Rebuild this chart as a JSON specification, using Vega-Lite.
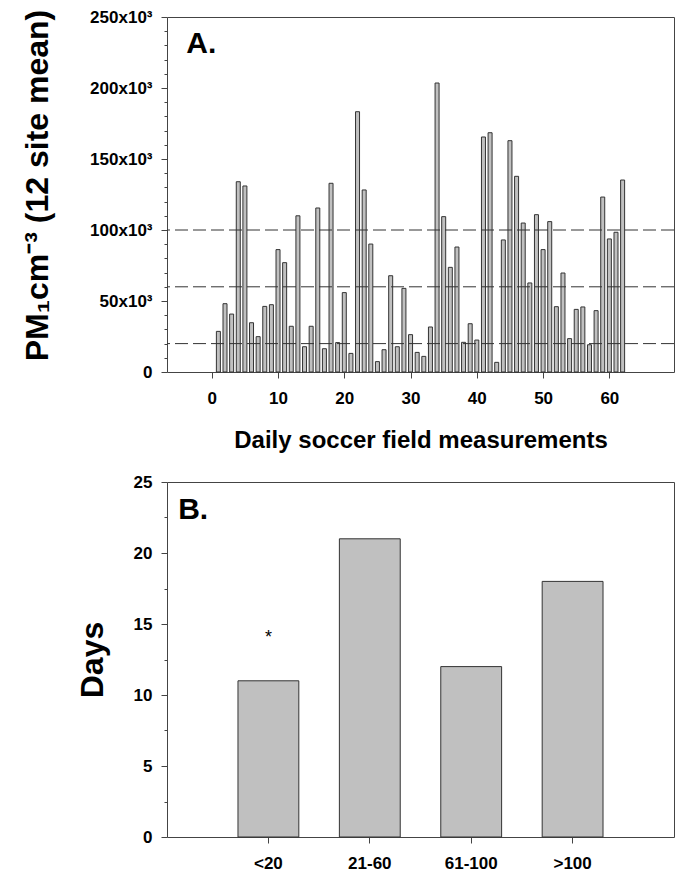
{
  "$schema": "https://vega.github.io/schema/vega-lite/v6.json",
  "background": "white",
  "padding": {"left": 20, "top": 7, "right": 5, "bottom": 2},
  "config": {
    "font": "Liberation Sans",
    "view": {"stroke": "#444", "strokeWidth": 1},
    "axis": {
      "domain": false,
      "grid": false,
      "labelFont": "Liberation Sans",
      "labelFontWeight": "bold",
      "labelFontSize": 17,
      "labelColor": "black",
      "labelFlush": false,
      "labelOverlap": false,
      "tickColor": "#444",
      "titleFont": "Liberation Sans",
      "titleFontWeight": "bold",
      "titleColor": "black"
    }
  },
  "datasets": {
    "pm": [
      {"day": 1, "pm": 28600}, {"day": 2, "pm": 48100}, {"day": 3, "pm": 40800}, {"day": 4, "pm": 134000},
      {"day": 5, "pm": 131000}, {"day": 6, "pm": 34700}, {"day": 7, "pm": 24900}, {"day": 8, "pm": 46200},
      {"day": 9, "pm": 47400}, {"day": 10, "pm": 86200}, {"day": 11, "pm": 77000}, {"day": 12, "pm": 32200},
      {"day": 13, "pm": 110000}, {"day": 14, "pm": 17800}, {"day": 15, "pm": 32200}, {"day": 16, "pm": 115500},
      {"day": 17, "pm": 16400}, {"day": 18, "pm": 132900}, {"day": 19, "pm": 20700}, {"day": 20, "pm": 55900},
      {"day": 21, "pm": 13100}, {"day": 22, "pm": 183300}, {"day": 23, "pm": 128200}, {"day": 24, "pm": 90100},
      {"day": 25, "pm": 7300}, {"day": 26, "pm": 15700}, {"day": 27, "pm": 67800}, {"day": 28, "pm": 17800},
      {"day": 29, "pm": 58900}, {"day": 30, "pm": 26300}, {"day": 31, "pm": 13800}, {"day": 32, "pm": 11000},
      {"day": 33, "pm": 31700}, {"day": 34, "pm": 203500}, {"day": 35, "pm": 109400}, {"day": 36, "pm": 73700},
      {"day": 37, "pm": 88000}, {"day": 38, "pm": 20900}, {"day": 39, "pm": 34000}, {"day": 40, "pm": 22500},
      {"day": 41, "pm": 165500}, {"day": 42, "pm": 168500}, {"day": 43, "pm": 6800}, {"day": 44, "pm": 93000},
      {"day": 45, "pm": 162900}, {"day": 46, "pm": 137800}, {"day": 47, "pm": 104900}, {"day": 48, "pm": 62700},
      {"day": 49, "pm": 110800}, {"day": 50, "pm": 86200}, {"day": 51, "pm": 105900}, {"day": 52, "pm": 46000},
      {"day": 53, "pm": 69700}, {"day": 54, "pm": 23500}, {"day": 55, "pm": 44100}, {"day": 56, "pm": 45800},
      {"day": 57, "pm": 19200}, {"day": 58, "pm": 43200}, {"day": 59, "pm": 123200}, {"day": 60, "pm": 93700},
      {"day": 61, "pm": 98400}, {"day": 62, "pm": 135200}
    ],
    "thresholds": [{"level": 20000}, {"level": 60000}, {"level": 100000}],
    "days": [
      {"range": "<20", "days": 11, "note": "*"},
      {"range": "21-60", "days": 21, "note": ""},
      {"range": "61-100", "days": 12, "note": ""},
      {"range": ">100", "days": 18, "note": ""}
    ],
    "panelA": [{"label": "A."}],
    "panelB": [{"label": "B."}]
  },
  "bounds": "flush",
  "spacing": 110,
  "vconcat": [
    {
      "width": 507,
      "height": 355,
      "layer": [
        {
          "data": {"name": "pm"},
          "mark": {"type": "bar", "orient": "vertical", "size": 4, "fill": "#c0c0c0", "stroke": "#333", "strokeWidth": 1},
          "encoding": {
            "x": {
              "field": "day", "type": "quantitative",
              "scale": {"domain": [-6, 69], "nice": false, "zero": false},
              "axis": {
                "values": [0, 10, 20, 30, 40, 50, 60],
                "tickCount": 20,
                "title": "Daily soccer field measurements",
                "titleFontSize": 24,
                "titlePadding": 22,
                "labelPadding": 12,
                "labelFontSize": 17,
                "labelOverlap": false,
                "tickSize": 6
              }
            },
            "y": {
              "field": "pm", "type": "quantitative",
              "scale": {"domain": [0, 250000], "nice": false},
              "axis": {
                "values": [0, 10000, 20000, 30000, 40000, 50000, 60000, 70000, 80000, 90000, 100000, 110000, 120000, 130000, 140000, 150000, 160000, 170000, 180000, 190000, 200000, 210000, 220000, 230000, 240000, 250000],
                "tickCount": 40,
                "labelExpr": "datum.value % 50000 === 0 ? (datum.value === 0 ? '0' : (datum.value / 1000) + 'x10³') : ''",
                "labelOverlap": false,
                "labelFontSize": {"condition": {"test": "datum.value % 50000 === 0", "value": 17}, "value": 0},
                "tickSize": {"condition": {"test": "datum.value % 50000 === 0", "value": 6}, "value": 3},
                "labelPadding": 9,
                "title": "PM₁cm⁻³ (12 site mean)",
                "titleFontSize": 32,
                "titleX": -113,
                "titleY": 168
              }
            }
          }
        },
        {
          "data": {"name": "thresholds"},
          "mark": {"type": "rule", "strokeDash": [13, 5], "color": "#333", "strokeWidth": 1},
          "encoding": {"y": {"field": "level", "type": "quantitative"}}
        },
        {
          "data": {"name": "panelA"},
          "mark": {"type": "text", "align": "left", "baseline": "alphabetic", "fontSize": 30, "fontWeight": "bold", "font": "Liberation Sans", "color": "black"},
          "encoding": {
            "x": {"datum": -3.85, "type": "quantitative"},
            "y": {"datum": 224600, "type": "quantitative"},
            "text": {"field": "label"}
          }
        }
      ]
    },
    {
      "width": 507,
      "height": 355,
      "resolve": {"scale": {"x": "independent"}, "axis": {"x": "independent"}},
      "layer": [
        {
          "data": {"name": "days"},
          "encoding": {
            "x": {
              "field": "range", "type": "nominal", "sort": null,
              "scale": {"paddingInner": 0.4, "paddingOuter": 0.7},
              "axis": {"title": null, "labelAngle": 0, "labelPadding": 12, "labelFontSize": 17, "tickSize": 6}
            },
            "y": {
              "field": "days", "type": "quantitative",
              "scale": {"domain": [0, 25], "nice": false},
              "axis": {
                "values": [0, 2.5, 5, 7.5, 10, 12.5, 15, 17.5, 20, 22.5, 25],
                "tickCount": 20,
                "labelExpr": "datum.value % 5 === 0 ? datum.label : ''",
                "labelOverlap": false,
                "labelFontSize": 17,
                "tickSize": {"condition": {"test": "datum.value % 5 === 0", "value": 6}, "value": 3},
                "labelPadding": 9,
                "title": "Days",
                "titleFontSize": 32,
                "titleX": -58
              }
            }
          },
          "layer": [
            {"mark": {"type": "bar", "fill": "#c0c0c0", "stroke": "#333", "strokeWidth": 1}},
            {"mark": {"type": "text", "baseline": "alphabetic", "dy": -38, "fontSize": 18, "color": "black"}, "encoding": {"text": {"field": "note"}}}
          ]
        },
        {
          "data": {"name": "panelB"},
          "mark": {"type": "text", "align": "left", "baseline": "alphabetic", "fontSize": 30, "fontWeight": "bold", "font": "Liberation Sans", "color": "black"},
          "encoding": {
            "x": {"datum": 0.11, "type": "quantitative", "scale": {"domain": [0, 5], "nice": false, "zero": false}, "axis": null},
            "y": {"datum": 22.4, "type": "quantitative"},
            "text": {"field": "label"}
          }
        }
      ]
    }
  ]
}
